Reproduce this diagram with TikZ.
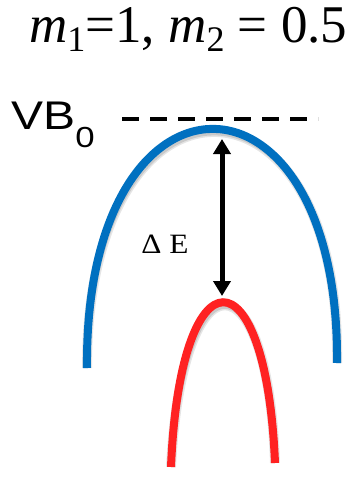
\documentclass[tikz,border=0pt]{standalone}
\usepackage{fontspec}
\setmainfont{Liberation Serif}
\newfontfamily\vbfont{Liberation Sans}
\usetikzlibrary{arrows.meta}
\definecolor{bandblue}{RGB}{0,112,192}
\definecolor{bandred}{RGB}{255,34,34}
\tikzset{
  band/.style={line width=8pt, line cap=butt},
  shade1/.style={line width=10pt, draw=black, opacity=0.10},
  shade2/.style={line width=7pt, draw=black, opacity=0.12},
  gaparrow/.style={line width=5pt, {Triangle[length=15pt,width=17pt]}-{Triangle[length=15pt,width=17pt]}},
  vbline/.style={line width=3.5pt, dash pattern=on 17pt off 11pt},
}
\begin{document}
\begin{tikzpicture}[x=1pt,y=-1pt]
\useasboundingbox (0,0) rectangle (360,477);
% title
\node[anchor=base west, inner sep=0pt, font=\fontsize{53}{56}\selectfont] (title) at (29,42)
  {\textit{m}\raisebox{-9pt}{\fontsize{36}{38}\selectfont 1}=1, \textit{m}\raisebox{-9pt}{\fontsize{36}{38}\selectfont 2} = 0.5};
% VB0 label
\node[anchor=base west, inner sep=0pt, xscale=1.2, font=\vbfont\fontsize{40}{42}\selectfont] (vb) at (11,129)
  {VB\raisebox{-18pt}{\fontsize{29}{31}\selectfont 0}};
% coordinates
\coordinate (dashL) at (122,119);
\coordinate (dashR) at (318,119);
\coordinate (bL) at (87,368);
\coordinate (bR) at (337,363);
\coordinate (rL) at (171,467);
\coordinate (rR) at (275,463);
\coordinate (top) at (222,139);
\coordinate (bot) at (222,296);
% shadows
\foreach \s in {shade1,shade2}{
  \draw[\s, shift={(2,4)}] (bL) .. controls (84,50) and (340,50) .. (bR);
  \draw[\s, shift={(2,4)}] (rL) .. controls (180,248) and (266,248) .. (rR);
}
% dashed VB0 level
\draw[vbline] (dashL) -- (dashR);
% bands
\draw[band, draw=bandblue] (bL) .. controls (84,50) and (340,50) .. (bR);
\draw[band, draw=bandred] (rL) .. controls (180,248) and (266,248) .. (rR);
% gap arrow
\draw[gaparrow] (top) -- (bot);
\node[font=\fontsize{28}{30}\selectfont, inner sep=0pt, xscale=1.12] (de) at (165,244) {Δ E};
\end{tikzpicture}
\end{document}
